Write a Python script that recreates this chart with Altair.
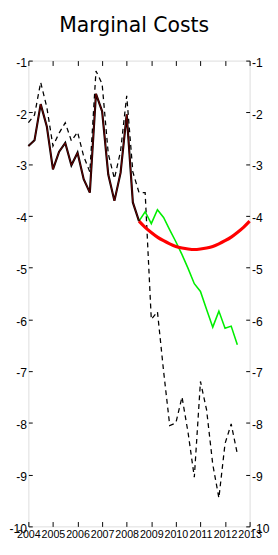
import altair as alt
import pandas as pd

# ---- data (quarterly) ----
years = [2004, 2005, 2006, 2007, 2008, 2009, 2010, 2011, 2012, 2013]
y_ticks = [-10, -9, -8, -7, -6, -5, -4, -3, -2, -1]

solid_vals = [-2.65, -2.54, -1.84, -2.27, -3.10, -2.76, -2.59, -3.02, -2.78, -3.29,
              -3.55, -1.64, -1.98, -3.20, -3.71, -3.17, -2.04, -3.74, -4.10]
dashed_vals = [-2.20, -2.05, -1.42, -1.90, -2.65, -2.40, -2.20, -2.55, -2.38, -2.85,
               -3.15, -1.20, -1.45, -2.80, -3.28, -2.75, -1.68, -3.15, -3.55, -3.55,
               -6.00, -5.85, -7.00, -8.05, -8.00, -7.50, -8.20, -9.05, -7.20, -7.75,
               -8.80, -9.45, -8.40, -8.02, -8.60]
green_vals = [-4.10, -3.92, -4.15, -3.88, -4.03, -4.27, -4.50, -4.75, -5.02, -5.31,
              -5.46, -5.81, -6.15, -5.84, -6.17, -6.13, -6.49]
red_vals = [-4.10, -4.22, -4.32, -4.41, -4.48, -4.54, -4.59, -4.62, -4.64, -4.65,
            -4.64, -4.62, -4.59, -4.54, -4.48, -4.41, -4.32, -4.22, -4.10]

solid_start, dashed_start, green_start, red_start = 0, 0, 18, 18


def frame(start, vals):
    return pd.DataFrame({"t": [2004 + (start + i) / 4 for i in range(len(vals))], "v": vals})


solid_df = frame(solid_start, solid_vals)
dashed_df = frame(dashed_start, dashed_vals)
green_df = frame(green_start, green_vals)
red_df = frame(red_start, red_vals)

x_scale = alt.Scale(domain=[2004, 2013], nice=False, zero=False)
y_scale = alt.Scale(domain=[-10, -1], nice=False, zero=False)

LF = "Liberation Sans, Arial, sans-serif"
common = dict(grid=False, domain=False, title=None, tickColor="black", tickWidth=1,
              labelColor="black", labelFont=LF)

x_bottom = alt.Axis(orient="bottom", values=years, labelExpr="datum.value + ''",
                    offset=-5, tickSize=5, labelPadding=2, labelFlush=False,
                    labelOverlap=False, labelFontSize=11, **common)
x_top = alt.Axis(orient="top", values=years, labels=False, offset=-5, tickSize=5,
                 labelFontSize=11, **common)
y_left = alt.Axis(orient="left", values=y_ticks, labelExpr="datum.value + ''",
                  offset=-4, tickSize=4, labelPadding=2, labelOffset=2,
                  labelFlush=False, labelOverlap=False, labelFontSize=12.5, **common)
y_right = alt.Axis(orient="right", values=y_ticks, labelExpr="datum.value + ''",
                   offset=-4, tickSize=4, labelPadding=2, labelOffset=2,
                   labelFlush=False, labelOverlap=False, labelFontSize=12.5, **common)

dashed = alt.Chart(dashed_df).mark_line(color="black", strokeWidth=1.3, strokeDash=[5, 4]).encode(
    x=alt.X("t:Q", scale=x_scale, axis=x_bottom),
    y=alt.Y("v:Q", scale=y_scale, axis=y_left),
)
green = alt.Chart(green_df).mark_line(color="#00ee00", strokeWidth=1.6).encode(
    x=alt.X("t:Q", scale=x_scale, axis=x_top),
    y=alt.Y("v:Q", scale=y_scale, axis=y_right),
)
red = alt.Chart(red_df).mark_line(color="#ff0000", strokeWidth=3.2, interpolate="monotone").encode(
    x=alt.X("t:Q", scale=x_scale, axis=None),
    y=alt.Y("v:Q", scale=y_scale, axis=None),
)
solid_black = alt.Chart(solid_df).mark_line(color="black", strokeWidth=2.2).encode(
    x=alt.X("t:Q", scale=x_scale, axis=None),
    y=alt.Y("v:Q", scale=y_scale, axis=None),
)
solid_red = alt.Chart(solid_df).mark_line(color="#8b0000", strokeWidth=0.8).encode(
    x=alt.X("t:Q", scale=x_scale, axis=None),
    y=alt.Y("v:Q", scale=y_scale, axis=None),
)

chart = (
    alt.layer(dashed, green, red, solid_black, solid_red)
    .resolve_axis(x="independent", y="independent")
    .properties(
        width=270,
        height=539,
        padding={"left": 0, "top": 0, "right": 0, "bottom": 0},
        autosize=alt.AutoSizeParams(type="fit", contains="padding"),
        title=alt.TitleParams("Marginal Costs", font="DejaVu Sans", fontSize=21,
                              fontWeight="normal", color="black", anchor="middle",
                              offset=21, dx=-5),
    )
    .configure_view(stroke="black", strokeWidth=1.5)
    .configure(background="white")
)

chart.save("out.html", embed_options={"renderer": "svg", "actions": False})
